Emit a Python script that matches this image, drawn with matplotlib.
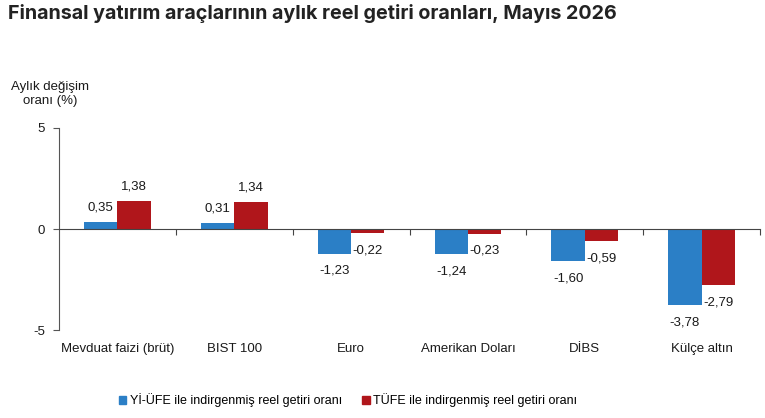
import matplotlib
matplotlib.use("Agg")
import matplotlib.pyplot as plt
from matplotlib.patches import Patch
import numpy as np

categories = ["Mevduat faizi (brüt)", "BIST 100", "Euro", "Amerikan Doları", "DİBS", "Külçe altın"]
yi_ufe = [0.35, 0.31, -1.23, -1.24, -1.60, -3.78]
tufe = [1.38, 1.34, -0.22, -0.23, -0.59, -2.79]
series_names = ["Yİ-ÜFE ile indirgenmiş reel getiri oranı", "TÜFE ile indirgenmiş reel getiri oranı"]
yticks = [-5, 0, 5]
title = "Finansal yatırım araçlarının aylık reel getiri oranları, Mayıs 2026"
ylabel = "Aylık değişim\noranı (%)"

blue = "#2B7FC6"
red = "#B0161B"
txt = "#1a1a1a"

plt.rcParams['font.family'] = ['Liberation Sans', 'DejaVu Sans']

fig = plt.figure(figsize=(7.65, 4.18), dpi=100)
ax = fig.add_axes([0.0771, 0.2105, 0.9164, 0.4833])

x = np.arange(len(categories))
w = 0.285
b1 = ax.bar(x - w/2, yi_ufe, w, color=blue)
b2 = ax.bar(x + w/2, tufe, w, color=red)

def fmt(v):
    return f"{v:.2f}".replace(".", ",")

for bars, vals in ((b1, yi_ufe), (b2, tufe)):
    for rect, v in zip(bars, vals):
        cx = rect.get_x() + rect.get_width()/2
        if v >= 0:
            ax.annotate(fmt(v), (cx, v), xytext=(0, 6), textcoords="offset points",
                        ha="center", va="bottom", fontsize=9.5, color=txt)
        else:
            ax.annotate(fmt(v), (cx, v), xytext=(0, -8), textcoords="offset points",
                        ha="center", va="top", fontsize=9.5, color=txt)

ax.set_xlim(-0.5, len(categories) - 0.5)
ax.set_ylim(-5, 5)
ax.set_yticks(yticks)
ax.set_yticklabels([str(t) for t in yticks], fontsize=9.5, color=txt)
ax.tick_params(axis="y", direction="out", length=4, width=0.8, color="#555555", pad=6)

ax.spines["top"].set_visible(False)
ax.spines["right"].set_visible(False)
ax.spines["left"].set_color("#555555")
ax.spines["bottom"].set_position(("data", 0))
ax.spines["bottom"].set_color("#444444")
ax.set_xticks(np.arange(len(categories)) + 0.5)
ax.set_xticklabels([])
ax.tick_params(axis="x", direction="out", length=4, width=0.8, color="#444444")

for i, c in enumerate(categories):
    ax.annotate(c, (i, -5), xytext=(0, -9), textcoords="offset points",
                ha="center", va="top", fontsize=9.5, color=txt)

fig.text(0.011, 0.968, title, fontsize=14.2, fontweight="bold", color="#222222",
         family=["Inter", "DejaVu Sans"], ha="left", va="center")
fig.text(0.066, 0.775, ylabel, fontsize=9.5, color=txt, ha="center", va="center",
         linespacing=1.2)

handles = [Patch(color=blue), Patch(color=red)]
fig.legend(handles, series_names, loc="center", bbox_to_anchor=(0.455, 0.043), ncol=2,
           frameon=False, fontsize=9, handlelength=0.6, handleheight=0.6,
           handletextpad=0.3, columnspacing=1.6)

fig.savefig("out.png", dpi=100)
